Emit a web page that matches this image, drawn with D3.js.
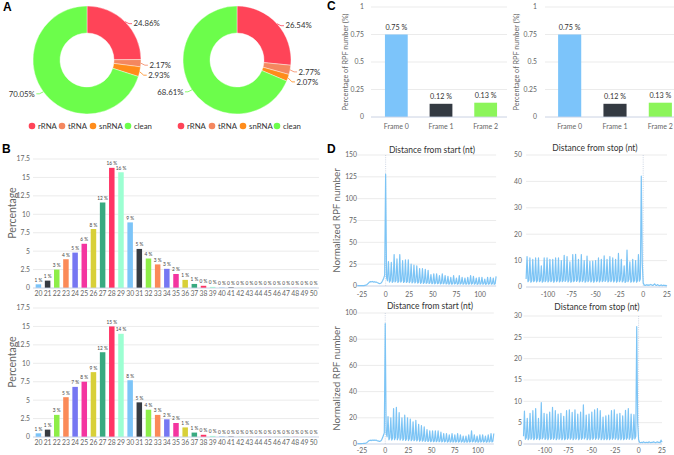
<!DOCTYPE html>
<html><head><meta charset="utf-8">
<script src="https://cdn.jsdelivr.net/npm/d3@7"></script>
<style>body{margin:0;background:#fff}svg{display:block;font-family:Lato,"DejaVu Sans",sans-serif}</style>
</head><body><script>
// ---------- DATA ----------
const pieCategories = ["rRNA", "tRNA", "snRNA", "clean"];
const pieColors = ["#ff4458", "#f4875f", "#ff8c1a", "#6cfd4b"];
const pieA1 = [24.86, 2.17, 2.93, 70.05];
const pieA2 = [26.54, 2.77, 2.07, 68.61];

const lengthCats = ["20","21","22","23","24","25","26","27","28","29","30","31","32","33","34","35","36","37","38","39","40","41","42","43","44","45","46","47","48","49","50"];
const lengthPct1 = [0.5,1.0,2.5,3.9,4.8,6.0,8.0,11.6,16.3,15.7,8.9,5.3,4.0,3.2,2.6,1.9,1.1,0.55,0.3,0.15,0.06,0.08,0.02,0.02,0.02,0.02,0.02,0.02,0.02,0.02,0.02];
const lengthLbl1 = ["1","1","3","4","5","6","8","12","16","16","9","5","4","3","3","2","1","1","0","0","0","0","0","0","0","0","0","0","0","0","0"];
const lengthPct2 = [0.5,1.0,3.0,5.4,6.8,7.5,8.8,11.5,15.0,14.0,7.7,4.7,3.7,3.0,2.4,1.9,1.3,0.6,0.3,0.15,0.08,0.05,0.02,0.02,0.02,0.02,0.02,0.02,0.02,0.02,0.02];
const lengthLbl2 = ["1","1","3","5","7","8","9","12","15","14","8","5","4","3","2","2","1","1","0","0","0","0","0","0","0","0","0","0","0","0","0"];
const lengthTicks = [0, 2.5, 5, 7.5, 10, 12.5, 15, 17.5];
const barColors = ["#7cc4f8","#363b42","#8eee48","#fb8a58","#7677f2","#f434a0","#d8d038","#38aa80","#ff3464","#9cffd2"];

const frameCats = ["Frame 0", "Frame 1", "Frame 2"];
const frameVals1 = [0.75, 0.12, 0.13];
const frameVals2 = [0.75, 0.12, 0.13];
const frameColors = ["#7cc4fa", "#343a42", "#8cf55a"];
const frameTicks = [0, 0.25, 0.5, 0.75, 1];

const startPos = d3.range(-30, 118);   // nt from start codon
const stopPos = d3.range(-123, 26);    // nt from stop codon

const startRPF1 = [
 0.4,0.4,0.5,0.4,0.5,0.5,0.6,0.5,0.7,0.9,
 1.5,2.5,3.5,4.6,5.0,4.8,5.2,4.5,4.9,4.4,
 4.6,4.0,3.5,3.0,2.8,3.2,4.5,6.5,9.0,12.5,
 128,9.5,6.0,
 28,4.5,6, 27,4.2,5.6, 36,4.6,6.2, 31,4.1,5.5, 36,4.5,6.1, 29,4.0,5.4, 30,4.1,5.2, 30,3.9,5.5, 25,3.6,5.0, 24,3.5,4.9,
 23,3.4,4.6, 20,3.1,4.5, 20,3.0,4.1, 19,3.0,4.0, 18,2.9,4.0, 13,2.6,3.5, 14,2.5,3.6, 14,2.6,3.4, 12,2.4,3.1, 14,2.5,3.5,
 12,2.4,3.0, 11,2.1,3.0, 10,2.0,2.9, 12,2.4,3.1, 9,2.0,2.8, 12,2.2,3.0, 10,2.0,2.9, 9,2.0,2.6, 10,2.1,2.9, 12,2.2,3.1,
 11,2.1,3.0, 9,1.9,2.6, 10,2.0,2.9, 10,2.1,2.8, 8,1.9,2.5, 10,2.0,2.9, 10,2.0,2.6, 9,1.9,2.5,
 11];
const stopRPF1 = [
 3.0,
 11.5,2.0,2.6, 11,1.8,2.4, 10.5,2.0,2.5, 11,1.9,2.6, 11,2.0,2.4, 8,1.8,2.3, 11,2.0,2.6, 11,1.9,2.5, 10.5,2.0,2.4, 10.5,1.8,2.5,
 11,2.0,2.6, 11,1.9,2.4, 10,2.0,2.5, 12,2.1,2.7, 11.5,1.9,2.5, 9.5,1.8,2.3, 12.3,2.0,2.6, 12.4,2.1,2.7, 10.5,1.9,2.4, 12.3,2.0,2.6,
 10,1.8,2.4, 11.7,2.0,2.6, 9.7,1.9,2.4, 9.8,1.8,2.5, 10,2.0,2.5, 11,1.9,2.6, 10.5,2.0,2.5, 11.8,2.1,2.7, 10.5,1.9,2.4, 11.5,2.0,2.6,
 11,1.9,2.5, 10.5,1.8,2.4, 12.7,2.0,2.7, 10.5,1.9,2.4, 8,1.7,2.2, 14,2.0,2.8, 9.5,1.8,2.3, 10.5,1.9,2.5, 10,1.8,2.4, 12.3,2.2,3.0,
 42,9,1.5,
 0.8,0.6,0.7,0.9,0.6,0.8,0.7,1.0,0.7,0.6,0.8,1.2,0.7,0.6,0.9,0.7,0.5,0.6,0.8,0.5,0.6,0.7,0.5,0.6,0.4];
const startRPF2 = [
 0.3,0.3,0.3,0.4,0.3,0.4,0.4,0.5,0.5,0.7,
 1.0,1.6,2.3,2.7,2.9,2.6,3.0,2.8,3.1,2.7,
 3.0,2.6,2.4,2.2,2.0,2.3,3.0,4.5,6.5,8.5,
 92,8.5,5.5,
 21,3.2,4.8, 20,3.0,4.5, 27,3.3,5.0, 28,3.2,5.0, 24,3.0,4.6, 20,2.8,4.1, 22,2.7,4.0, 20,2.6,4.0, 19,2.5,3.6, 17,2.5,3.5,
 18,2.3,3.4, 15,2.2,3.1, 14,2.1,3.0, 13,2.0,2.9, 11,1.9,2.6, 10,1.8,2.5, 10,1.7,2.4, 10,1.7,2.5, 10,1.7,2.4, 9,1.6,2.3,
 8,1.6,2.2, 8,1.5,2.1, 7,1.5,2.0, 8,1.5,2.1, 7,1.5,2.0, 8,1.5,2.1, 7,1.5,2.0, 6,1.4,1.9, 6,1.4,1.9, 7,1.5,2.0,
 10,1.6,2.2, 7,1.5,2.0, 6,1.4,1.9, 7,1.5,2.0, 7,1.5,2.0, 6,1.4,1.9, 7,1.5,2.0, 8,1.6,2.1,
 8];
const stopRPF2 = [
 1.8,
 7.7,1.1,1.5, 6,1.0,1.4, 7.2,1.1,1.5, 7.8,1.0,1.4, 8.3,1.1,1.5, 6,1.0,1.3, 9.7,1.2,1.6, 7.2,1.1,1.4, 7,1.0,1.5, 7.5,1.1,1.4,
 8.6,1.1,1.5, 7.8,1.0,1.4, 7,1.1,1.5, 7.2,1.0,1.4, 6.5,1.0,1.3, 7.8,1.1,1.5, 8,1.1,1.5, 7.4,1.0,1.4, 8,1.1,1.5, 7,1.0,1.4,
 7.5,1.1,1.5, 9.2,1.2,1.6, 6.8,1.0,1.4, 7,1.0,1.4, 7.5,1.1,1.5, 8,1.1,1.5, 8.3,1.1,1.6, 7.8,1.0,1.4, 6.3,1.0,1.3, 6.6,1.0,1.4,
 6.8,1.0,1.4, 7.8,1.1,1.5, 8,1.1,1.5, 7,1.0,1.4, 7.2,1.0,1.4, 6.6,1.0,1.3, 7.9,1.1,1.5, 8.3,1.1,1.6, 7,1.0,1.4, 6.9,1.2,1.8,
 27.5,5,1.0,
 0.4,0.3,0.4,0.3,0.5,0.4,0.3,0.4,0.4,0.3,0.5,0.4,0.3,0.4,0.4,0.5,0.4,0.3,0.4,0.5,0.4,0.4,0.3,0.9,0.4];

// ---------- DRAW ----------
const W = 674, H = 455;
const svg = d3.select("body").append("svg").attr("width", W).attr("height", H);
const GRID = "#e6e6e6", AXIS = "#ccd6eb", TICK = "#666", DARK = "#333";

// panel letters
[["A",3,11],["B",2,153],["C",327,10],["D",327,153]].forEach(([t,x,y]) =>
  svg.append("text").attr("x",x).attr("y",y).attr("font-size",12).attr("font-weight",700)
     .attr("font-family","Liberation Sans, Arial, sans-serif").attr("fill","#000").text(t));

// ----- A: donuts -----
function drawDonut(vals, cx, cy, legendXs) {
  const r = 54, ri = 27;
  const arcs = d3.pie().sort(null).value(d => d)(vals);
  const arc = d3.arc().innerRadius(ri).outerRadius(r);
  const g = svg.append("g").attr("transform", `translate(${cx},${cy})`);
  g.selectAll("path.s").data(arcs).join("path").attr("class","s").attr("d", arc)
    .attr("fill", (d,i) => pieColors[i]).attr("stroke","#fff").attr("stroke-width",0.4);
  const lastY = {1: -1e9, "-1": -1e9};
  arcs.forEach((d,i) => {
    const a = (d.startAngle + d.endAngle) / 2;
    const ex = Math.sin(a) * r, ey = -Math.cos(a) * r;
    const side = ex >= 0 ? 1 : -1;
    let ly = ey + 2;
    if (ly < lastY[side] + 10) ly = lastY[side] + 10;
    lastY[side] = ly;
    g.append("path").attr("d", `M${ex},${ey}L${ex+side*4},${ly}L${ex+side*7},${ly}`)
      .attr("fill","none").attr("stroke", pieColors[i]).attr("stroke-width",0.8);
    g.append("text").attr("x", ex + side*8.5).attr("y", ly).attr("dy","0.35em")
      .attr("text-anchor", side > 0 ? "start" : "end").attr("font-size",7.8).attr("fill",DARK)
      .text(d3.format(".2f")(vals[i]) + "%");
  });
  pieCategories.forEach((c,i) => {
    svg.append("circle").attr("cx", legendXs[i]).attr("cy",126).attr("r",3.3).attr("fill",pieColors[i]);
    svg.append("text").attr("x", legendXs[i]+6).attr("y",126).attr("dy","0.35em")
      .attr("font-size",7.8).attr("fill",DARK).text(c);
  });
}
drawDonut(pieA1, 87, 60, [32, 62, 93, 128]);
drawDonut(pieA2, 237, 60, [181, 212, 243, 277]);

// ----- B: length distribution -----
function drawLengths(vals, lbls, yTop, yBot, labelY, titleY) {
  const x = d3.scaleBand().domain(lengthCats).range([32, 320]).padding(0.4);
  const y = d3.scaleLinear().domain([0, 17.5]).range([yBot, yTop]);
  const g = svg.append("g");
  lengthTicks.forEach(t => {
    g.append("line").attr("x1",33).attr("x2",319).attr("y1",y(t)).attr("y2",y(t))
      .attr("stroke",GRID).attr("stroke-width",0.8);
    g.append("text").attr("x",30).attr("y",y(t)).attr("dy","0.35em").attr("text-anchor","end")
      .attr("font-size",6.8).attr("fill",TICK).text(String(t));
  });
  g.selectAll("rect").data(vals).join("rect")
    .attr("x",(d,i)=>x(lengthCats[i])).attr("width",x.bandwidth())
    .attr("y",d=>y(d)).attr("height",d=>yBot-y(d))
    .attr("fill",(d,i)=>barColors[i%10]);
  g.append("line").attr("x1",33).attr("x2",319).attr("y1",yBot).attr("y2",yBot).attr("stroke",AXIS).attr("stroke-width",0.8);
  g.selectAll("text.v").data(vals).join("text").attr("class","v")
    .attr("x",(d,i)=>x(lengthCats[i])+x.bandwidth()/2).attr("y",d=>y(d)-2.5)
    .attr("text-anchor","middle").attr("font-size",4.8).attr("fill","#444")
    .text((d,i)=>lbls[i]+" %");
  g.selectAll("text.c").data(lengthCats).join("text").attr("class","c")
    .attr("x",d=>x(d)+x.bandwidth()/2).attr("y",labelY).attr("dy","0.35em")
    .attr("text-anchor","middle").attr("font-size",6.8).attr("fill",TICK).text(d=>d);
  g.append("text").attr("transform",`translate(12,${titleY}) rotate(-90)`).attr("dy","0.35em")
    .attr("text-anchor","middle").attr("font-size",10.5).attr("fill",TICK).text("Percentage");
}
drawLengths(lengthPct1, lengthLbl1, 159, 288, 293.5, 213);
drawLengths(lengthPct2, lengthLbl2, 308, 437, 442.5, 362);

// ----- C: frames -----
function drawFrames(vals, x0, x1, gx0, gx1, tickX, titleX) {
  const x = d3.scaleBand().domain(frameCats).range([x0, x1]).paddingInner(0.49).paddingOuter(0.245);
  const y = d3.scaleLinear().domain([0, 1]).range([117, 7]);
  const g = svg.append("g");
  frameTicks.forEach(t => {
    g.append("line").attr("x1",gx0).attr("x2",gx1).attr("y1",y(t)).attr("y2",y(t)).attr("stroke",GRID).attr("stroke-width",0.8);
    g.append("text").attr("x",tickX).attr("y",y(t)).attr("dy","0.35em").attr("text-anchor","end")
      .attr("font-size",6.8).attr("fill",TICK).text(String(t));
  });
  g.selectAll("rect").data(vals).join("rect")
    .attr("x",(d,i)=>x(frameCats[i])).attr("width",x.bandwidth())
    .attr("y",d=>y(d)).attr("height",d=>117-y(d)).attr("fill",(d,i)=>frameColors[i]);
  g.append("line").attr("x1",gx0).attr("x2",gx1).attr("y1",117).attr("y2",117).attr("stroke",AXIS).attr("stroke-width",0.8);
  g.selectAll("text.v").data(vals).join("text").attr("class","v")
    .attr("x",(d,i)=>x(frameCats[i])+x.bandwidth()/2).attr("y",d=>y(d)-7).attr("dy","0.35em")
    .attr("text-anchor","middle").attr("font-size",7.2).attr("fill",DARK).text(d=>d+" %");
  g.selectAll("text.c").data(frameCats).join("text").attr("class","c")
    .attr("x",d=>x(d)+x.bandwidth()/2).attr("y",127).attr("dy","0.35em")
    .attr("text-anchor","middle").attr("font-size",7).attr("fill",TICK).text(d=>d);
  g.append("text").attr("transform",`translate(${titleX},62) rotate(-90)`).attr("dy","0.35em")
    .attr("text-anchor","middle").attr("font-size",7.3).attr("fill",TICK).text("Percentage of RPF number (%)");
}
drawFrames(frameVals1, 374, 508, 371, 507, 364, 345);
drawFrames(frameVals2, 547, 683, 545, 684, 537, 516);

// ----- D: metagene profiles -----
function drawProfile(pos, vals, dom, rng, yMax, yTicks, yTop, yBot, title, titleX, titleY, tickX, xTicks, xLabelY, yTitle) {
  const x = d3.scaleLinear().domain(dom).range(rng);
  const y = d3.scaleLinear().domain([0, yMax]).range([yBot, yTop]);
  const g = svg.append("g");
  yTicks.forEach(t => {
    g.append("line").attr("x1",rng[0]).attr("x2",rng[1]).attr("y1",y(t)).attr("y2",y(t)).attr("stroke",GRID).attr("stroke-width",0.8);
    g.append("text").attr("x",tickX).attr("y",y(t)).attr("dy","0.35em").attr("text-anchor","end")
      .attr("font-size",6.8).attr("fill",TICK).text(String(t));
  });
  g.append("line").attr("x1",rng[0]).attr("x2",rng[1]).attr("y1",yBot).attr("y2",yBot).attr("stroke",AXIS).attr("stroke-width",0.8);
  g.append("line").attr("x1",x(0)).attr("x2",x(0)).attr("y1",yTop).attr("y2",yBot)
    .attr("stroke","#b8c4d8").attr("stroke-width",0.7).attr("stroke-dasharray","1,1.2");
  xTicks.forEach(t => {
    g.append("text").attr("x",x(t)).attr("y",xLabelY).attr("dy","0.35em").attr("text-anchor","middle")
      .attr("font-size",6.8).attr("fill",TICK).text(String(t));
  });
  const line = d3.line().x((d,i)=>x(pos[i])).y(d=>y(d));
  g.append("path").datum(vals).attr("d",line).attr("fill","none").attr("stroke","#7cc4f5")
    .attr("stroke-width",1.2).attr("stroke-linejoin","round");
  g.append("text").attr("x",titleX).attr("y",titleY).attr("dy","0.35em").attr("text-anchor","middle")
    .attr("font-size",8.5).attr("fill",DARK).text(title);
  if (yTitle) g.append("text").attr("transform",`translate(337,${(yTop+yBot)/2}) rotate(-90)`).attr("dy","0.35em")
    .attr("text-anchor","middle").attr("font-size",9.8).attr("fill",TICK).text("Normalized RPF number");
}
drawProfile(startPos, startRPF1, [-30,117], [357.3,496.1], 150, [0,25,50,75,100,125,150], 155, 286,
  "Distance from start (nt)", 432, 150, 357, [-25,0,25,50,75,100], 295, true);
drawProfile(stopPos, stopRPF1, [-123,25], [526.1,667], 50, [0,10,20,30,40,50], 155, 287,
  "Distance from stop (nt)", 595, 148, 522, [-100,-75,-50,-25,0,25], 295, false);
drawProfile(startPos, startRPF2, [-30,117], [357.4,493.8], 100, [0,20,40,60,80,100], 313, 444,
  "Distance from start (nt)", 430, 306, 357, [-25,0,25,50,75,100], 451, true);
drawProfile(stopPos, stopRPF2, [-123,25], [523.5,662], 30, [0,5,10,15,20,25,30], 316, 444,
  "Distance from stop (nt)", 597, 307, 522, [-100,-75,-50,-25,0,25], 451, false);
</script></body></html>
